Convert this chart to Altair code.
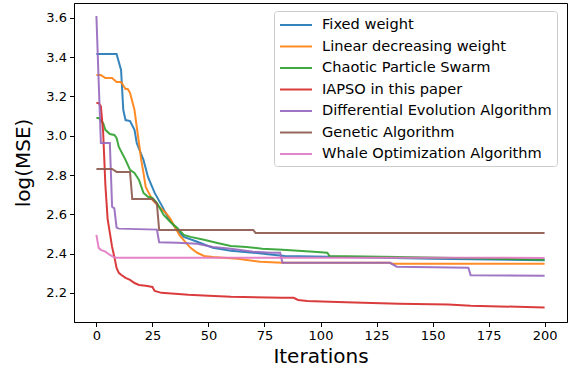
import altair as alt
import pandas as pd

names = ["Fixed weight", "Linear decreasing weight", "Chaotic Particle Swarm",
         "IAPSO in this paper", "Differential Evolution Algorithm",
         "Genetic Algorithm", "Whale Optimization Algorithm"]
colors = ["#1f77b4", "#ff7f0e", "#2ca02c", "#d62728", "#9467bd", "#8c564b", "#e377c2"]

fixed_it = [0, 9, 11, 12, 13, 15, 17, 18, 21, 23, 26, 29, 32, 36, 39, 45, 52, 60, 70, 84, 110, 150, 200]
fixed_v = [3.416, 3.416, 3.335, 3.131, 3.08, 3.075, 3.03, 2.963, 2.877, 2.79, 2.709, 2.648, 2.582,
           2.52, 2.485, 2.46, 2.429, 2.414, 2.404, 2.388, 2.382, 2.373, 2.366]

linear_it = [0, 2, 4, 7, 9, 11, 13, 14, 15, 17, 18, 19, 20, 21, 22, 25, 28, 31, 33, 37, 40, 42, 45,
             48, 52, 63, 73, 83, 131, 132, 200]
linear_v = [3.309, 3.309, 3.294, 3.294, 3.274, 3.274, 3.238, 3.238, 3.218, 3.131, 3.045, 2.963,
            2.877, 2.811, 2.739, 2.673, 2.638, 2.607, 2.577, 2.495, 2.454, 2.429, 2.404, 2.388,
            2.383, 2.373, 2.358, 2.353, 2.353, 2.348, 2.348]

chaotic_it = [0, 1, 3, 4, 6, 8, 9, 10, 13, 15, 17, 19, 21, 23, 25, 27, 30, 33, 36, 39, 42, 48, 54,
              60, 67, 74, 83, 97, 103, 104, 135, 200]
chaotic_v = [3.091, 3.091, 3.065, 3.03, 3.009, 3.004, 2.989, 2.943, 2.877, 2.826, 2.811, 2.775,
             2.709, 2.689, 2.683, 2.658, 2.597, 2.561, 2.531, 2.495, 2.485, 2.47, 2.454, 2.439,
             2.434, 2.424, 2.419, 2.409, 2.404, 2.388, 2.383, 2.369]

iapso_it = [0, 1, 2, 3, 4, 5, 6, 7, 8, 9, 10, 11, 13, 15, 17, 19, 22, 25, 26, 29, 35, 41, 50, 60,
            83, 88, 90, 94, 104, 119, 135, 157, 167, 180, 200]
iapso_v = [3.167, 3.167, 3.15, 3.02, 2.75, 2.577, 2.505, 2.434, 2.383, 2.327, 2.302, 2.292, 2.276,
           2.266, 2.25, 2.24, 2.236, 2.23, 2.21, 2.2, 2.195, 2.19, 2.185, 2.18, 2.175, 2.175,
           2.164, 2.159, 2.154, 2.149, 2.144, 2.141, 2.134, 2.131, 2.125]

de_it = [0, 1, 2, 6, 7, 8, 9, 10, 27, 28, 36, 45, 52, 60, 70, 78, 82, 83, 131, 134, 166, 167, 200]
de_v = [3.61, 3.28, 2.963, 2.963, 2.638, 2.63, 2.532, 2.527, 2.522, 2.458, 2.455, 2.45, 2.434,
        2.424, 2.409, 2.404, 2.404, 2.353, 2.353, 2.333, 2.328, 2.29, 2.287]

ga_it = [0, 7, 9, 15, 16, 25, 27, 28, 70, 71, 200]
ga_v = [2.831, 2.831, 2.816, 2.816, 2.678, 2.678, 2.653, 2.52, 2.52, 2.505, 2.505]

woa_it = [0, 1, 2, 4, 6, 8, 9, 200]
woa_v = [2.495, 2.429, 2.419, 2.41, 2.393, 2.381, 2.379, 2.378]

series = [(fixed_it, fixed_v), (linear_it, linear_v), (chaotic_it, chaotic_v),
          (iapso_it, iapso_v), (de_it, de_v), (ga_it, ga_v), (woa_it, woa_v)]

rows = []
for k, (its, vals) in enumerate(series):
    for i, v in zip(its, vals):
        rows.append({"Iterations": i, "value": v, "series": names[k], "order": k})
df = pd.DataFrame(rows)

FONT = "DejaVu Sans"

chart = alt.Chart(df).mark_line(strokeWidth=2, opacity=0.9).encode(
    x=alt.X("Iterations:Q",
            scale=alt.Scale(domain=[-10, 210], nice=False, zero=False),
            axis=alt.Axis(title="Iterations", values=list(range(0, 201, 25)),
                          grid=False, tickSize=4.5, labelPadding=3, titlePadding=4)),
    y=alt.Y("value:Q",
            scale=alt.Scale(domain=[2.0515, 3.676], nice=False, zero=False),
            axis=alt.Axis(title="log(MSE)", values=[2.2, 2.4, 2.6, 2.8, 3.0, 3.2, 3.4, 3.6],
                          format=".1f", grid=False, tickSize=4.5, labelPadding=3,
                          titlePadding=12)),
    color=alt.Color("series:N",
                    scale=alt.Scale(domain=names, range=colors),
                    sort=names,
                    legend=alt.Legend(title=None, orient="none", legendX=200, legendY=8,
                                      symbolType="M-2,0H2", symbolStrokeWidth=2,
                                      symbolSize=256, symbolOffset=8,
                                      labelFontSize=14.6, labelFont=FONT,
                                      labelColor="black", padding=5, strokeColor="#cccccc",
                                      fillColor="white", cornerRadius=3, labelOffset=17,
                                      labelLimit=0, rowPadding=5.5)),
    order=alt.Order("order:Q"),
    detail="series:N",
).properties(
    width=493, height=319,
    autosize=alt.AutoSizeParams(type="none"),
    padding={"left": 74, "top": 3, "right": 5, "bottom": 52},
).configure_view(
    stroke="black", strokeWidth=1
).configure_axis(
    labelFont=FONT, titleFont=FONT, labelFontSize=13, titleFontSize=20,
    labelColor="black", titleColor="black", tickColor="black", domainColor="black",
    titleFontWeight="normal", domainWidth=1, tickWidth=1
)

chart.save("out.html", embed_options={"renderer": "svg", "actions": False})
